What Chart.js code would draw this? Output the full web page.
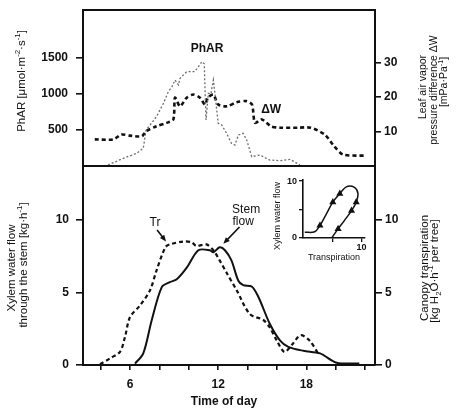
<!DOCTYPE html>
<html>
<head>
<meta charset="utf-8">
<script src="https://cdn.jsdelivr.net/npm/chart.js@4.4.0/dist/chart.umd.min.js"></script>
<style>
  html, body { margin: 0; padding: 0; background: #fff; }
  #wrap { position: relative; width: 458px; height: 408px; overflow: hidden; }
  #wrap canvas { position: absolute; left: 0; top: 0; }
</style>
</head>
<body>
<div id="wrap">
  <canvas id="topPanel" width="458" height="408"></canvas>
  <canvas id="bottomPanel" width="458" height="408"></canvas>
  <canvas id="loopPanel" width="458" height="408"></canvas>
</div>
<script>
// ---- Upper panel: photosynthetically active radiation and leaf-air vapour difference ----
const pharHours = [4.5, 5.55, 6.45, 6.9, 7.1, 7.8, 8.27, 8.6, 8.85, 9.06, 9.3, 9.4, 9.86, 10.4, 10.9, 11.05, 11.17, 11.33, 11.5, 11.67, 11.8, 12.0, 12.24, 12.57, 12.9, 13.14, 13.37, 13.7, 13.94, 14.28, 14.84, 15.5, 16.2, 16.9, 17.56];
const pharValues = [14, 107, 176, 246, 500, 685, 870, 1030, 1100, 1194, 1125, 1218, 1310, 1310, 1449, 1420, 640, 1010, 1000, 1194, 963, 593, 570, 454, 315, 292, 430, 454, 361, 130, 153, 83, 74, 93, 14];

const dwHours = [3.6, 4.86, 5.4, 6.0, 6.8, 7.1, 7.8, 8.5, 8.95, 9.06, 9.4, 9.86, 10.3, 10.76, 11.1, 11.3, 11.67, 12.0, 12.6, 13.26, 13.9, 14.3, 14.5, 14.96, 15.6, 16.2, 17.45, 18.3, 19.25, 19.9, 20.5, 22.0];
const dwValues = [7.7, 7.7, 9.1, 8.8, 8.6, 10.1, 11.5, 12.5, 13.5, 19.8, 17.3, 19.8, 20.7, 19.8, 17.8, 19.8, 20.7, 17.8, 17.3, 18.5, 18.8, 17.8, 12.5, 13.5, 11.5, 11.1, 11.1, 11.1, 9.1, 5.7, 3.3, 3.0];

// ---- Lower panel: canopy transpiration (Tr) and xylem flow through the stem ----
const trHours = [3.96, 4.64, 5.32, 5.66, 6.0, 6.68, 7.36, 7.8, 8.4, 8.7, 9.6, 10.2, 10.5, 11.2, 11.67, 12.1, 12.6, 13.26, 14.16, 15.07, 15.5, 15.98, 16.5, 17.0, 17.6, 18.2, 18.8];
const trValues = [0.05, 0.46, 0.91, 1.94, 3.3, 4.1, 5.14, 6.5, 8.1, 8.3, 8.5, 8.45, 8.2, 8.3, 7.9, 7.2, 6.3, 5.14, 3.5, 3.1, 2.6, 1.7, 0.9, 1.37, 2.05, 1.7, 0.8];

const stemHours = [6.34, 6.9, 7.48, 8.16, 8.7, 9.18, 9.86, 10.65, 11.44, 11.67, 12.1, 12.46, 12.9, 13.37, 13.7, 14.28, 14.73, 15.5, 16.2, 16.77, 17.8, 18.93, 20.06, 21.6];
const stemValues = [0.1, 0.8, 3.1, 5.36, 5.7, 5.9, 6.7, 7.9, 7.9, 7.76, 8.1, 7.9, 7.2, 5.8, 5.5, 5.4, 4.7, 2.86, 1.7, 1.25, 0.98, 0.8, 0.16, 0.1];

// ---- Inset: xylem flow against transpiration over the day ----
const loopTranspiration = [0.3, 2.0, 2.9, 4.0, 5.1, 6.3, 7.4, 8.8, 9.4, 9.1, 8.3, 7.1, 6.0, 4.9];
const loopXylemFlow = [1.0, 1.1, 2.2, 4.25, 6.3, 7.8, 9.0, 8.9, 7.8, 6.3, 4.8, 3.1, 1.6, 0.0];
const loopMarked = [2, 4, 5, 9, 10, 12];

// ---- Tick labels ----
const hourTicks = [4, 6, 8, 10, 12, 14, 16, 18, 20, 22];
const hourLabels = [6, 12, 18];
const pharTicks = [500, 1000, 1500];
const dwTicks = [10, 20, 30];
const flowTicks = [0, 5, 10];

const FONT = '"Liberation Sans", Arial, Helvetica, sans-serif';
const HOUR_MIN = 2.8, HOUR_MAX = 22.67;

function pts(xs, ys) { return xs.map((x, i) => ({ x, y: ys[i] })); }

// text with ^{..} superscripts and _{..} subscripts
function drawRich(ctx, str, x, y, size, weight, align, rot) {
  const segs = str.split(/(\^\{[^}]*\}|_\{[^}]*\})/).filter(s => s.length).map(p => {
    if (p.startsWith('^{')) return { t: p.slice(2, -1), k: 'sup' };
    if (p.startsWith('_{')) return { t: p.slice(2, -1), k: 'sub' };
    return { t: p, k: 'n' };
  });
  const small = size * 0.68;
  ctx.save();
  ctx.translate(x, y);
  if (rot) ctx.rotate(rot);
  ctx.fillStyle = '#111';
  ctx.textBaseline = 'middle';
  ctx.textAlign = 'left';
  let w = 0;
  segs.forEach(s => {
    ctx.font = `${weight} ${s.k === 'n' ? size : small}px ${FONT}`;
    s.w = ctx.measureText(s.t).width; w += s.w;
  });
  let cx = align === 'center' ? -w / 2 : (align === 'right' ? -w : 0);
  segs.forEach(s => {
    ctx.font = `${weight} ${s.k === 'n' ? size : small}px ${FONT}`;
    const dy = s.k === 'sup' ? -size * 0.33 : (s.k === 'sub' ? size * 0.3 : 0);
    ctx.fillText(s.t, cx, dy);
    cx += s.w;
  });
  ctx.restore();
}

function arrow(ctx, x1, y1, x2, y2) {
  const a = Math.atan2(y2 - y1, x2 - x1);
  ctx.save();
  ctx.strokeStyle = '#111'; ctx.fillStyle = '#111'; ctx.lineWidth = 1.6;
  ctx.beginPath(); ctx.moveTo(x1, y1); ctx.lineTo(x2 - 5 * Math.cos(a), y2 - 5 * Math.sin(a)); ctx.stroke();
  ctx.beginPath();
  ctx.moveTo(x2, y2);
  ctx.lineTo(x2 - 7 * Math.cos(a - 0.4), y2 - 7 * Math.sin(a - 0.4));
  ctx.lineTo(x2 - 7 * Math.cos(a + 0.4), y2 - 7 * Math.sin(a + 0.4));
  ctx.closePath(); ctx.fill();
  ctx.restore();
}

function fixedWidth(w) {
  return s => { s.width = w; s.paddingTop = 0; s.paddingBottom = 0; };
}
function fixedHeight(h) {
  return s => { s.height = h; s.paddingLeft = 0; s.paddingRight = 0; };
}
const tickFont = { family: FONT, size: 12, weight: 'bold' };

function yAxis(pos, min, max, ticks, tickLen, pad, width, showBorder) {
  return {
    type: 'linear', position: pos, min, max,
    afterBuildTicks: s => { s.ticks = ticks.map(v => ({ value: v })); },
    afterFit: fixedWidth(width),
    grid: { display: true, drawOnChartArea: false, drawTicks: true, tickLength: tickLen, color: '#111', lineWidth: 1.6 },
    border: { display: showBorder, color: '#111', width: 2 },
    ticks: { color: '#111', font: tickFont, padding: pad, callback: v => String(v) }
  };
}

// ---------- upper panel ----------
new Chart(document.getElementById('topPanel'), {
  type: 'line',
  data: {
    datasets: [
      { label: 'PhAR', data: pts(pharHours, pharValues), yAxisID: 'yL', borderColor: '#6e6e6e', borderWidth: 1.3, borderDash: [2, 2], pointRadius: 0, tension: 0 },
      { label: 'ΔW', data: pts(dwHours, dwValues), yAxisID: 'yR', borderColor: '#111', borderWidth: 2.6, borderDash: [4, 3], pointRadius: 0, tension: 0.25 }
    ]
  },
  options: {
    responsive: false, animation: false,
    layout: { padding: { top: 10, bottom: 242, left: 0, right: 0 } },
    plugins: { legend: { display: false }, tooltip: { enabled: false } },
    scales: {
      x: { type: 'linear', min: HOUR_MIN, max: HOUR_MAX, display: false },
      yL: yAxis('left', 0, 2167, pharTicks, 7, 8, 83, false),
      yR: yAxis('right', 0, 45.2, dwTicks, 6, 3, 83, false)
    }
  },
  plugins: [{
    id: 'upperDecor',
    afterDraw(chart) {
      const { ctx, chartArea: a, scales } = chart;
      ctx.save();
      ctx.strokeStyle = '#111'; ctx.lineWidth = 2;
      ctx.strokeRect(a.left, a.top, a.right - a.left, a.bottom - a.top);
      ctx.restore();
      drawRich(ctx, 'PhAR [μmol·m^{-2}·s^{-1}]', 22, 81, 11.5, 'normal', 'center', -Math.PI / 2);
      drawRich(ctx, 'Leaf air vapor', 423.5, 87, 10.5, 'normal', 'center', -Math.PI / 2);
      drawRich(ctx, 'pressure difference ΔW', 434, 90, 10.5, 'normal', 'center', -Math.PI / 2);
      drawRich(ctx, '[mPa·Pa^{-1}]', 444.5, 82, 10.5, 'normal', 'center', -Math.PI / 2);
      drawRich(ctx, 'PhAR', scales.x.getPixelForValue(11.24), scales.yL.getPixelForValue(1625), 12, 'bold', 'center');
      drawRich(ctx, 'ΔW', scales.x.getPixelForValue(15.6), scales.yR.getPixelForValue(16.4), 12, 'bold', 'center');
    }
  }]
});

// ---------- lower panel ----------
new Chart(document.getElementById('bottomPanel'), {
  type: 'line',
  data: {
    datasets: [
      { label: 'Tr', data: pts(trHours, trValues), yAxisID: 'yR', borderColor: '#111', borderWidth: 2.2, borderDash: [4, 3], pointRadius: 0, tension: 0.3 },
      { label: 'Stem flow', data: pts(stemHours, stemValues), yAxisID: 'yL', borderColor: '#111', borderWidth: 2, pointRadius: 0, tension: 0.3 }
    ]
  },
  options: {
    responsive: false, animation: false,
    layout: { padding: { top: 166, bottom: 0, left: 0, right: 0 } },
    plugins: { legend: { display: false }, tooltip: { enabled: false } },
    scales: {
      x: {
        type: 'linear', min: HOUR_MIN, max: HOUR_MAX, position: 'bottom',
        afterBuildTicks: s => { s.ticks = hourTicks.map(v => ({ value: v })); },
        afterFit: fixedHeight(43),
        grid: { display: true, drawOnChartArea: false, drawTicks: true, tickLength: 5, color: '#111', lineWidth: 1.6 },
        border: { display: true, color: '#111', width: 2 },
        ticks: { color: '#111', font: tickFont, padding: 7, maxRotation: 0, autoSkip: false,
                 callback: v => hourLabels.includes(v) ? String(v) : '' }
      },
      yL: yAxis('left', 0, 13.7, flowTicks, 7, 7, 83, true),
      yR: yAxis('right', 0, 13.7, flowTicks, 7, 3, 83, true)
    }
  },
  plugins: [{
    id: 'lowerDecor',
    afterDraw(chart) {
      const { ctx, scales } = chart;
      const X = v => scales.x.getPixelForValue(v), Y = v => scales.yL.getPixelForValue(v);
      drawRich(ctx, 'Xylem water flow', 12, 268, 11.5, 'normal', 'center', -Math.PI / 2);
      drawRich(ctx, 'through the stem [kg·h^{-1}]', 23.5, 265, 11.5, 'normal', 'center', -Math.PI / 2);
      drawRich(ctx, 'Canopy transpiration', 424.5, 268, 11.5, 'normal', 'center', -Math.PI / 2);
      drawRich(ctx, '[kg H_{2}O·h^{-1} per tree]', 435, 271, 11.5, 'normal', 'center', -Math.PI / 2);
      drawRich(ctx, 'Time of day', 224, 402, 12, 'bold', 'center');
      drawRich(ctx, 'Tr', X(7.7), Y(9.8), 12, 'normal', 'center');
      arrow(ctx, X(7.84), Y(9.3), X(8.45), Y(8.5));
      drawRich(ctx, 'Stem', X(13.9), Y(10.7), 12, 'normal', 'center');
      drawRich(ctx, 'flow', X(13.7), Y(9.85), 12, 'normal', 'center');
      arrow(ctx, X(13.45), Y(9.5), X(12.35), Y(8.35));
    }
  }]
});

// ---------- inset ----------
const smallFont = { family: FONT, size: 9, weight: 'bold' };
new Chart(document.getElementById('loopPanel'), {
  type: 'line',
  data: {
    datasets: [{
      data: pts(loopTranspiration, loopXylemFlow),
      borderColor: '#111', borderWidth: 1.5, tension: 0.35,
      pointStyle: 'triangle',
      pointRadius: loopTranspiration.map((_, i) => loopMarked.includes(i) ? 2.6 : 0),
      pointBackgroundColor: '#111', pointBorderColor: '#111'
    }]
  },
  options: {
    responsive: false, animation: false,
    layout: { padding: { top: 180, bottom: 0, left: 0, right: 93 } },
    plugins: { legend: { display: false }, tooltip: { enabled: false } },
    scales: {
      x: {
        type: 'linear', min: 0, max: 10.6,
        afterBuildTicks: s => { s.ticks = [5, 10].map(v => ({ value: v })); },
        afterFit: fixedHeight(170),
        grid: { display: true, drawOnChartArea: false, drawTicks: true, tickLength: 4, color: '#111', lineWidth: 1.3 },
        border: { display: true, color: '#111', width: 1.6 },
        ticks: { color: '#111', font: smallFont, padding: 0, maxRotation: 0, autoSkip: false, callback: v => v === 10 ? '10' : '' }
      },
      y: {
        type: 'linear', min: 0, max: 10.2,
        afterBuildTicks: s => { s.ticks = [0, 5, 10].map(v => ({ value: v })); },
        afterFit: fixedWidth(303),
        grid: { display: true, drawOnChartArea: false, drawTicks: true, tickLength: 4, color: '#111', lineWidth: 1.3 },
        border: { display: true, color: '#111', width: 1.6 },
        ticks: { color: '#111', font: smallFont, padding: 2, callback: v => v === 5 ? '' : String(v) }
      }
    }
  },
  plugins: [{
    id: 'loopDecor',
    afterDraw(chart) {
      const { ctx } = chart;
      drawRich(ctx, 'Xylem water flow', 278, 216, 9, 'normal', 'center', -Math.PI / 2);
      drawRich(ctx, 'Transpiration', 334, 258, 9, 'normal', 'center');
    }
  }]
});
</script>
</body>
</html>
